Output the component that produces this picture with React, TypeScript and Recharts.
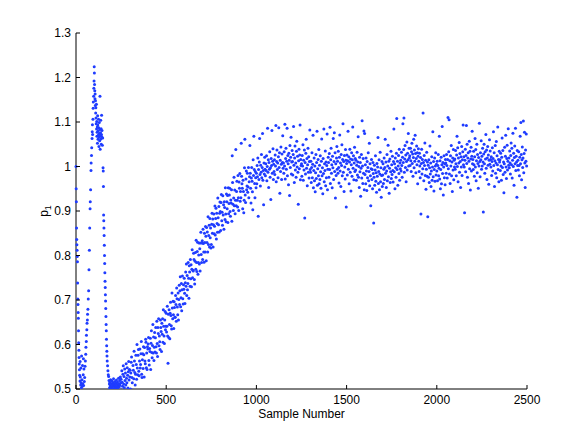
import React from 'react';
import { ScatterChart, Scatter, XAxis, YAxis, Label } from 'recharts';

// axis ticks
const xTicks = [0, 500, 1000, 1500, 2000, 2500];
const yTicks = [0.5, 0.6, 0.7, 0.8, 0.9, 1, 1.1, 1.2, 1.3];

// first few hundred samples: [sample number, p1 x 1000]
const earlyPoints: [number, number][] = [
  [0, 1000], [1, 950], [2, 921], [3, 862], [4, 836], [5, 824], [6, 812], [7, 798], [8, 786], [9, 738],
  [10, 702], [11, 690], [12, 672], [13, 659], [14, 631], [15, 604], [16, 587], [17, 571], [18, 556], [19, 543],
  [20, 531], [22, 518], [23, 562], [24, 527], [26, 509], [27, 547], [28, 514], [30, 503], [31, 574], [33, 521],
  [35, 506], [36, 553], [38, 512], [40, 532], [41, 568], [42, 508], [44, 545], [46, 517], [48, 526],
  [50, 551], [52, 563], [54, 578], [55, 594], [57, 607], [58, 621], [60, 633], [61, 648], [63, 655], [64, 668],
  [66, 679], [68, 702], [70, 721], [72, 768], [74, 812], [76, 862], [78, 905], [79, 921], [81, 948], [83, 991],
  [84, 1008], [86, 1025], [87, 1042], [89, 1063], [90, 1078], [91, 1094], [92, 1072], [94, 1106],
  [95, 1131], [96, 1145], [98, 1158], [99, 1176], [100, 1192], [101, 1224], [102, 1210], [103, 1184], [104, 1170],
  [105, 1152], [106, 1163], [107, 1137], [108, 1148], [109, 1120], [110, 1132], [111, 1109], [112, 1096], [113, 1140],
  [114, 1084], [115, 1101], [116, 1068], [117, 1077], [118, 1089], [119, 1052], [120, 1114], [121, 1093], [122, 1061],
  [123, 1080], [124, 1071], [125, 1106], [126, 1087], [127, 1045], [128, 1066], [129, 1099], [130, 1074], [131, 1058],
  [132, 1083], [133, 1158], [134, 1039], [135, 1069], [136, 1076], [137, 1104], [138, 1062], [139, 1085], [140, 1050],
  [141, 1072], [142, 1115], [143, 1067], [144, 1081], [146, 1048], [148, 1064],
  [150, 997], [151, 990], [152, 955], [153, 891], [154, 878], [155, 862], [156, 845], [157, 823], [158, 800], [159, 782],
  [160, 761], [161, 742], [162, 728], [163, 712], [164, 698], [165, 681], [166, 663], [167, 645], [168, 631], [169, 612],
  [170, 597], [171, 585], [172, 574], [173, 563], [175, 552], [177, 541], [179, 532], [181, 528], [183, 519], [185, 511],
  [186, 503], [188, 515], [190, 507], [192, 521], [194, 502], [196, 512], [198, 505], [200, 518], [202, 509], [204, 501],
  [206, 514], [208, 523], [210, 506], [212, 511], [214, 503], [216, 517], [218, 508], [220, 502], [222, 513], [224, 520],
  [226, 504], [228, 510], [230, 516], [232, 501], [234, 507], [236, 524], [238, 512], [240, 505], [242, 519], [244, 509],
  [246, 527], [248, 514],
];

// from sample 250 on, every 2nd sample, p1 x 1000 (25 values = 50 samples per row)
const mainStart = 250;
const mainStep = 2;
const mainP1 = [
  522, 498, 541, 515, 506, 533, 552, 511, 528, 503, 545, 519, 536, 509, 557, 524, 514, 548, 531, 502, 539, 562, 520, 544, 527,
  542, 500, 536, 560, 572, 526, 514, 497, 553, 542, 523, 585, 563, 537, 509, 533, 576, 555, 522, 600, 547, 532, 576, 589, 540,
  530, 563, 590, 547, 555, 579, 607, 533, 526, 566, 579, 546, 595, 577, 527, 593, 563, 557, 612, 605, 548, 581, 544, 595, 590,
  601, 616, 564, 554, 591, 584, 614, 544, 603, 631, 582, 570, 598, 645, 581, 617, 564, 594, 627, 583, 615, 638, 595, 581, 652,
  602, 573, 638, 625, 658, 597, 619, 606, 589, 655, 638, 629, 584, 648, 623, 658, 605, 678, 641, 619, 602, 655, 674, 633, 641,
  670, 628, 641, 686, 619, 558, 668, 616, 678, 645, 613, 670, 695, 665, 642, 635, 716, 682, 658, 697, 667, 636, 696, 683, 661,
  661, 710, 690, 652, 727, 703, 684, 667, 716, 655, 701, 733, 690, 721, 752, 685, 705, 737, 676, 723, 754, 703, 691, 734, 724,
  749, 715, 692, 739, 763, 731, 781, 710, 755, 723, 737, 784, 749, 704, 777, 763, 731, 791, 748, 779, 730, 769, 813, 750, 767,
  765, 805, 791, 746, 736, 787, 807, 769, 834, 784, 764, 809, 830, 758, 784, 801, 828, 781, 815, 765, 828, 852, 802, 784, 828,
  833, 791, 859, 827, 808, 785, 850, 829, 808, 865, 843, 788, 863, 829, 853, 808, 887, 825, 845, 868, 819, 883, 840, 862, 817,
  825, 870, 895, 850, 882, 819, 869, 893, 849, 866, 911, 846, 883, 906, 837, 895, 872, 852, 929, 885, 869, 910, 853, 895, 920,
  899, 856, 919, 937, 878, 897, 868, 934, 891, 914, 859, 921, 908, 881, 952, 893, 876, 938, 921, 905, 935, 874, 952, 894, 917,
  936, 951, 899, 888, 925, 918, 948, 877, 1024, 964, 915, 901, 929, 976, 912, 947, 894, 924, 1038, 912, 944, 967, 924, 909, 980,
  930, 901, 965, 951, 984, 922, 944, 930, 1052, 978, 961, 951, 905, 969, 944, 896, 924, 997, 1061, 936, 919, 972, 990, 948, 956,
  985, 942, 954, 998, 930, 966, 977, 1047, 985, 951, 918, 974, 998, 967, 943, 903, 1015, 980, 1068, 993, 962, 930, 989, 975, 952,
  985, 961, 1002, 977, 1019, 888, 993, 971, 1010, 1063, 982, 956, 1003, 987, 1027, 975, 998, 1074, 969, 991, 914, 1008, 983, 1021, 994,
  979, 1006, 991, 1024, 968, 1000, 1086, 987, 1015, 953, 1009, 994, 1033, 976, 997, 926, 1018, 1002, 1081, 985, 1012, 1040, 971, 1005, 989,
  1015, 982, 1026, 1001, 1092, 966, 1011, 1037, 993, 1008, 975, 1022, 1087, 998, 1031, 940, 1014, 989, 1044, 1005, 971, 1028, 1009, 1069, 996,
  1008, 985, 1033, 1001, 1095, 972, 1018, 1041, 994, 1012, 1086, 979, 1025, 1006, 959, 1030, 1014, 935, 1047, 998, 1021, 1066, 983, 1010, 1036,
  1011, 981, 1027, 1090, 1003, 964, 1019, 1046, 992, 1008, 976, 1034, 1057, 999, 1023, 987, 915, 1013, 1039, 995, 1026, 1093, 970, 1016, 1002,
  1006, 978, 1025, 1001, 1049, 969, 1014, 992, 1037, 884, 1009, 983, 1030, 1061, 996, 1018, 957, 1004, 1041, 987, 1022, 974, 1011, 1082, 993,
  987, 1012, 964, 998, 1031, 975, 1005, 1070, 952, 991, 1019, 968, 1001, 943, 986, 1027, 973, 1009, 1079, 958, 995, 1016, 979, 1038, 961,
  1003, 971, 1024, 988, 951, 1012, 1062, 979, 997, 939, 1018, 984, 1084, 966, 1006, 991, 1035, 957, 1010, 975, 1002, 1073, 948, 994, 1021,
  1009, 976, 1029, 993, 1088, 962, 1015, 1041, 985, 1004, 952, 1023, 997, 1063, 971, 1011, 1076, 989, 1031, 929, 1006, 980, 1019, 1045, 994,
  1012, 985, 1034, 998, 963, 1021, 1071, 990, 1008, 955, 1027, 1002, 1049, 979, 1016, 1096, 987, 1011, 944, 1025, 999, 972, 1038, 1014, 909,
  1007, 1026, 981, 1013, 1079, 994, 1022, 961, 1010, 1039, 987, 1017, 945, 1004, 1031, 978, 1015, 1089, 996, 1024, 970, 1008, 1043, 989, 1018,
  992, 1014, 969, 1003, 1032, 981, 1010, 1067, 976, 1000, 953, 1021, 988, 1009, 933, 996, 1027, 974, 1103, 1001, 962, 1018, 985, 1080, 948,
  1074, 982, 1004, 961, 1019, 990, 946, 1011, 975, 998, 1031, 968, 989, 1052, 957, 1006, 979, 912, 995, 1016, 971, 993, 950, 1009, 984,
  873, 976, 1003, 958, 992, 1024, 967, 986, 942, 1007, 978, 999, 1065, 962, 989, 1015, 948, 983, 1032, 966, 997, 931, 980, 1011, 955,
  981, 1006, 962, 994, 1019, 971, 998, 1061, 985, 1010, 953, 990, 1027, 968, 1001, 1048, 977, 1012, 940, 996, 1017, 964, 988, 1034, 973,
  1004, 982, 1023, 991, 965, 1011, 1084, 988, 1006, 950, 1019, 997, 976, 1030, 1108, 993, 1012, 958, 1001, 1025, 984, 1039, 969, 1008, 995,
  1014, 990, 1032, 1002, 976, 1021, 1096, 1009, 1038, 1109, 987, 1017, 1047, 998, 1026, 966, 1011, 1055, 992, 1030, 1015, 1074, 1001, 1041, 1019,
  1024, 1002, 1041, 1013, 989, 1033, 1052, 1007, 1028, 978, 1020, 1061, 997, 1037, 1012, 1070, 1029, 986, 1018, 1046, 1004, 1031, 961, 1023, 1040,
  1012, 989, 1030, 1001, 975, 1020, 893, 1007, 1039, 983, 1016, 995, 1120, 1009, 968, 1025, 1002, 1053, 980, 1014, 949, 994, 1032, 978, 1010,
  887, 1003, 976, 1015, 964, 997, 1046, 983, 1008, 955, 990, 1022, 969, 999, 1078, 977, 1011, 945, 993, 1019, 967, 1001, 1031, 981, 1005,
  990, 1012, 968, 1002, 1027, 979, 996, 1068, 972, 1013, 950, 993, 1021, 961, 1004, 1090, 984, 1009, 936, 999, 1024, 975, 1006, 959, 1016,
  1008, 985, 1027, 1002, 974, 1016, 1110, 995, 1033, 1105, 983, 1013, 962, 1024, 1001, 1047, 979, 1010, 944, 1019, 992, 1038, 970, 1014, 999,
  1017, 994, 1036, 1006, 979, 1026, 1068, 1000, 1042, 966, 1019, 1008, 1054, 987, 1029, 1011, 953, 1022, 999, 1045, 980, 1015, 1033, 1093, 1004,
  1022, 999, 896, 1014, 1039, 988, 1025, 1092, 1007, 1050, 976, 1019, 1031, 962, 1012, 1057, 995, 1034, 947, 1017, 1043, 990, 1023, 1079, 1006,
  1016, 993, 1034, 1004, 978, 1022, 1063, 999, 1038, 968, 1013, 1050, 986, 1027, 1007, 951, 1020, 1001, 1097, 1011, 977, 1031, 1015, 1058, 994,
  1023, 1001, 1041, 1010, 898, 1028, 1050, 1006, 985, 1033, 1017, 1072, 996, 1037, 971, 1019, 1045, 1003, 1026, 960, 1014, 1060, 1005, 1035, 1016,
  999, 1022, 980, 1011, 1042, 990, 1018, 1078, 1002, 1031, 955, 1013, 1047, 985, 1008, 1056, 975, 1024, 1004, 1089, 993, 1016, 966, 1034, 1010,
  1015, 991, 1030, 1001, 969, 1021, 1064, 998, 1036, 982, 1010, 941, 1006, 1043, 987, 1023, 1070, 999, 973, 1018, 1048, 992, 1012, 1085, 1003,
  1019, 997, 1035, 1008, 983, 1025, 1053, 1004, 1041, 974, 1014, 1075, 1000, 1030, 958, 1020, 1046, 1006, 1086, 991, 1023, 1010, 931, 1036, 1002,
  1014, 992, 1033, 1002, 979, 1021, 1068, 1006, 1099, 1027, 970, 1015, 1044, 998, 1019, 1102, 986, 1029, 1077, 1008, 953, 1037, 1012, 1073, 1001,
];

const points = [
  ...earlyPoints.map(([s, v]) => ({ sample: s, p1: v / 1000 })),
  ...mainP1.map((v, i) => ({ sample: mainStart + i * mainStep, p1: v / 1000 })),
];

const FONT = '"Liberation Sans", Arial, Helvetica, sans-serif';
const FONT_SIZE = 12;
const DOT = '#1f3cff';
const AXIS = '#000';
const TICK_LEN = 4;
const X_GAP = 6;
const Y_GAP = 5;

const BottomTick = (props: any) => {
  const { x, y, payload } = props;
  return (
    <g>
      <line x1={x} x2={x} y1={y - X_GAP} y2={y - X_GAP - TICK_LEN} stroke={AXIS} />
      <text x={x} y={y} dy="0.71em" textAnchor="middle" fontFamily={FONT} fontSize={FONT_SIZE} fill="#000">
        {payload.value}
      </text>
    </g>
  );
};

const TopTick = (props: any) => {
  const { x, y } = props;
  return <line x1={x} x2={x} y1={y} y2={y + TICK_LEN} stroke={AXIS} />;
};

const LeftTick = (props: any) => {
  const { x, y, payload } = props;
  return (
    <g>
      <line x1={x + Y_GAP} x2={x + Y_GAP + TICK_LEN} y1={y} y2={y} stroke={AXIS} />
      <text x={x} y={y} dy="0.35em" textAnchor="end" fontFamily={FONT} fontSize={FONT_SIZE} fill="#000">
        {String(payload.value)}
      </text>
    </g>
  );
};

const RightTick = (props: any) => {
  const { x, y } = props;
  return <line x1={x} x2={x - TICK_LEN} y1={y} y2={y} stroke={AXIS} />;
};

const renderXLabel = (props: any) => {
  const { x, y, width } = props.viewBox;
  return (
    <text x={x + width / 2} y={y + 29} textAnchor="middle" fontFamily={FONT} fontSize={FONT_SIZE} fill="#000">
      Sample Number
    </text>
  );
};

const renderYLabel = (props: any) => {
  const { x, y, height } = props.viewBox;
  const cx = x + 48;
  const cy = y + height / 2;
  return (
    <text x={cx} y={cy} transform={`rotate(-90 ${cx} ${cy})`} textAnchor="middle" fontFamily={FONT} fontSize={FONT_SIZE} fill="#000">
      p<tspan fontSize={9} dy={3}>1</tspan>
    </text>
  );
};

const renderDot = (props: any) => <circle cx={props.cx} cy={props.cy} r={1.5} fill={DOT} />;

export default function App() {
  return (
    <div style={{ position: 'absolute', left: 0, top: 0, width: 581, height: 437, background: '#fff' }}>
      <ScatterChart width={581} height={437} margin={{ top: 33, right: 54, bottom: 0, left: 0 }}>
        <XAxis
          xAxisId="b"
          type="number"
          dataKey="sample"
          domain={[0, 2500]}
          ticks={xTicks}
          interval={0}
          height={48}
          tickSize={0}
          tickMargin={X_GAP}
          tickLine={false}
          axisLine={{ stroke: AXIS }}
          tick={<BottomTick />}
        >
          <Label content={renderXLabel} />
        </XAxis>
        <XAxis
          xAxisId="t"
          orientation="top"
          type="number"
          dataKey="sample"
          domain={[0, 2500]}
          ticks={xTicks}
          interval={0}
          height={0}
          tickSize={0}
          tickMargin={0}
          tickLine={false}
          axisLine={{ stroke: AXIS }}
          tick={<TopTick />}
        />
        <YAxis
          yAxisId="l"
          type="number"
          dataKey="p1"
          domain={[0.5, 1.3]}
          allowDataOverflow
          ticks={yTicks}
          interval={0}
          width={76}
          tickSize={0}
          tickMargin={Y_GAP}
          tickLine={false}
          axisLine={{ stroke: AXIS }}
          tick={<LeftTick />}
        >
          <Label content={renderYLabel} />
        </YAxis>
        <YAxis
          yAxisId="r"
          orientation="right"
          type="number"
          dataKey="p1"
          domain={[0.5, 1.3]}
          allowDataOverflow
          ticks={yTicks}
          interval={0}
          width={0}
          tickSize={0}
          tickMargin={0}
          tickLine={false}
          axisLine={{ stroke: AXIS }}
          tick={<RightTick />}
        />
        <Scatter xAxisId="b" yAxisId="l" data={points} shape={renderDot} isAnimationActive={false} />
      </ScatterChart>
    </div>
  );
}
